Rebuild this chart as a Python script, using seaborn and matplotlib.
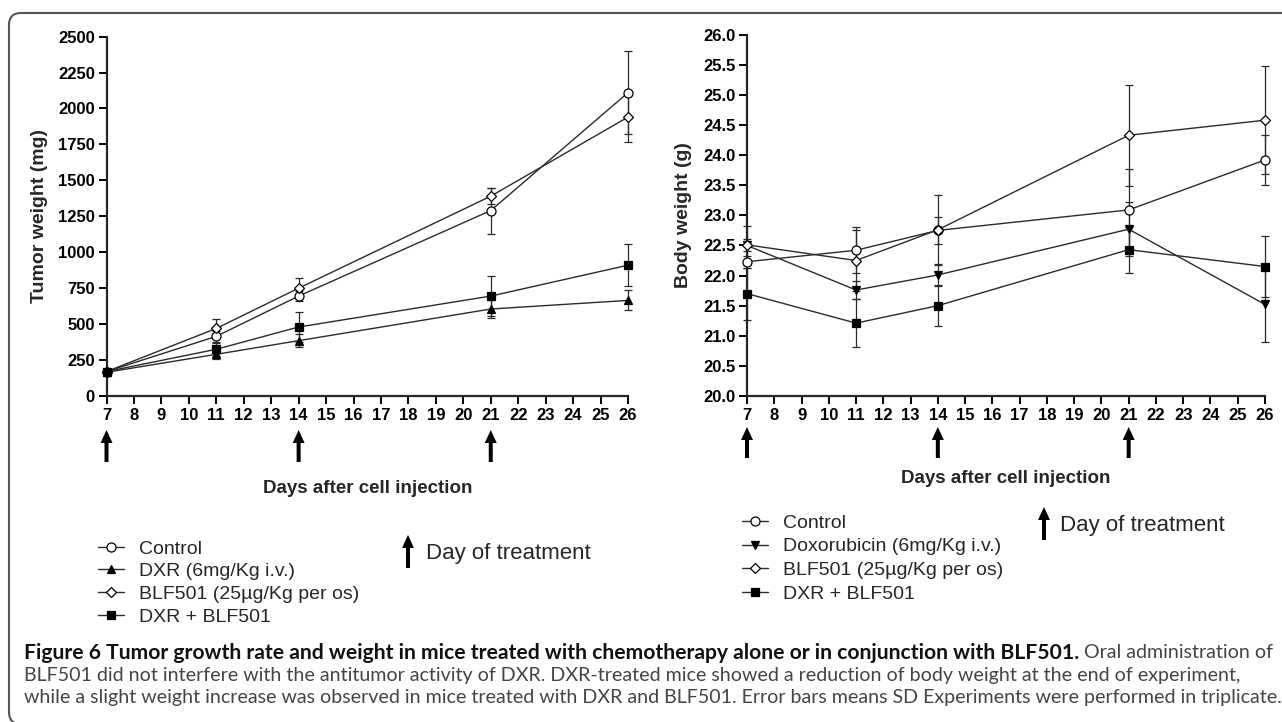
import numpy as np
import pandas as pd
import matplotlib
matplotlib.use("Agg")
import matplotlib.pyplot as plt
import seaborn as sns
from matplotlib.patches import FancyBboxPatch
from matplotlib.ticker import FormatStrFormatter

# ================= data =================
DAYS = [7, 11, 14, 21, 26]
TREAT_DAYS = [7, 14, 21]

# left panel: tumor weight (mg), mean and SD
TUMOR_GROUPS = ["Control", "DXR (6mg/Kg i.v.)", "BLF501 (25\u00b5g/Kg per os)", "DXR + BLF501"]
TUMOR_CONTROL = [170, 415, 695, 1290, 2110]
TUMOR_CONTROL_SD = [15, 40, 35, 160, 290]
TUMOR_DXR = [165, 290, 385, 605, 665]
TUMOR_DXR_SD = [10, 35, 45, 60, 70]
TUMOR_BLF = [170, 470, 750, 1390, 1940]
TUMOR_BLF_SD = [10, 65, 70, 55, 170]
TUMOR_COMBO = [170, 325, 480, 695, 910]
TUMOR_COMBO_SD = [10, 45, 107, 140, 145]

# right panel: body weight (g), mean and SD
BODY_GROUPS = ["Control", "Doxorubicin (6mg/Kg i.v.)", "BLF501 (25\u00b5g/Kg per os)", "DXR + BLF501"]
BODY_CONTROL = [22.23, 22.42, 22.75, 23.09, 23.92]
BODY_CONTROL_SD = [0.10, 0.38, 0.23, 0.68, 0.42]
BODY_DOX = [22.50, 21.76, 22.01, 22.77, 21.52]
BODY_DOX_SD = [0.32, 0.15, 0.17, 0.45, 0.62]
BODY_BLF = [22.51, 22.25, 22.76, 24.33, 24.58]
BODY_BLF_SD = [0.10, 0.50, 0.57, 0.84, 0.90]
BODY_COMBO = [21.70, 21.21, 21.50, 22.43, 22.15]
BODY_COMBO_SD = [0.43, 0.40, 0.33, 0.38, 0.50]

CAPTION_BOLD = ("Figure 6 Tumor growth rate and weight in mice treated with chemotherapy "
                "alone or in conjunction with BLF501.")
CAPTION_LINES = [
    " Oral administration of",
    "BLF501 did not interfere with the antitumor activity of DXR. DXR-treated mice showed a "
    "reduction of body weight at the end of experiment,",
    "while a slight weight increase was observed in mice treated with DXR and BLF501. Error bars "
    "means SD Experiments were performed in triplicate.",
]
# ============================================================

W, H = 1282, 722


def fx(px):
    return px / W


def fy(py):
    return 1 - py / H


def long_frame(groups, means, sds):
    rows = []
    for g, m, s in zip(groups, means, sds):
        for d, v, e in zip(DAYS, m, s):
            rows.append({"day": d, "value": v, "sd": e, "group": g})
    return pd.DataFrame(rows)


tumor_df = long_frame(TUMOR_GROUPS,
                      [TUMOR_CONTROL, TUMOR_DXR, TUMOR_BLF, TUMOR_COMBO],
                      [TUMOR_CONTROL_SD, TUMOR_DXR_SD, TUMOR_BLF_SD, TUMOR_COMBO_SD])
body_df = long_frame(BODY_GROUPS,
                     [BODY_CONTROL, BODY_DOX, BODY_BLF, BODY_COMBO],
                     [BODY_CONTROL_SD, BODY_DOX_SD, BODY_BLF_SD, BODY_COMBO_SD])

sns.set_style("ticks")
plt.rcParams["font.family"] = ["Liberation Sans", "DejaVu Sans"]

LINE_COL = "#2a2a2a"
# marker, size, face colour per group position
MARKERS_LEFT = [("o", 6.5, "white"), ("^", 6.0, "black"), ("D", 5.0, "white"), ("s", 6.0, "black")]
MARKERS_RIGHT = [("o", 6.5, "white"), ("v", 6.0, "black"), ("D", 5.0, "white"), ("s", 6.0, "black")]

ARROW = dict(arrowstyle="simple,head_length=0.65,head_width=0.6,tail_width=0.2",
             mutation_scale=14.4, fc="black", ec="none", lw=0, shrinkA=0, shrinkB=0)


def draw_panel(ax, df, groups, markers):
    handles = []
    for g, (mk, ms, fc) in zip(groups, markers):
        sub = df[df["group"] == g]
        eb = ax.errorbar(sub["day"], sub["value"], yerr=sub["sd"], fmt="none",
                         ecolor=LINE_COL, elinewidth=0.9, capsize=3, capthick=0.9, zorder=2)
        for child in eb.get_children():
            child.set_clip_on(False)
        sns.lineplot(data=sub, x="day", y="value", ax=ax, color=LINE_COL, linewidth=1.0,
                     marker=mk, markersize=ms, markerfacecolor=fc, markeredgecolor="black",
                     markeredgewidth=0.9, clip_on=False, zorder=3, errorbar=None, sort=False)
        handles.append(ax.lines[-1])

    ax.set_xlim(7, 26)
    ax.set_xticks(range(7, 27))
    sns.despine(ax=ax)
    for side in ["left", "bottom"]:
        ax.spines[side].set_linewidth(1.6)
    ax.tick_params(axis="both", direction="out", length=5.8, width=1.4, labelsize=12,
                   pad=2.5, colors="black")
    for lbl in ax.get_xticklabels() + ax.get_yticklabels():
        lbl.set_fontweight("bold")
    ax.set_xlabel("Days after cell injection", fontsize=13.5, fontweight="bold")
    return handles


fig = plt.figure(figsize=(W / 100, H / 100), dpi=100)
fig.patch.set_facecolor("white")

ax1 = fig.add_axes([fx(106.5), fy(396), fx(628) - fx(106.5), fy(36.6) - fy(396)])
ax2 = fig.add_axes([fx(747), fy(396), fx(1265) - fx(747), fy(34.7) - fy(396)])

# ---- left: tumor weight ----
h1 = draw_panel(ax1, tumor_df, TUMOR_GROUPS, MARKERS_LEFT)
ax1.set_ylim(0, 2500)
ax1.set_yticks(np.arange(0, 2501, 250))
for lbl in ax1.get_yticklabels():
    lbl.set_fontweight("bold")
ax1.set_ylabel("Tumor weight (mg)", fontsize=14, fontweight="bold")
ax1.yaxis.set_label_coords(-0.112, 0.5)
ax1.xaxis.set_label_coords(0.5, -0.233)

# ---- right: body weight ----
h2 = draw_panel(ax2, body_df, BODY_GROUPS, MARKERS_RIGHT)
ax2.set_ylim(20.0, 26.0)
ax2.set_yticks(np.arange(20.0, 26.01, 0.5))
ax2.yaxis.set_major_formatter(FormatStrFormatter("%.1f"))
for lbl in ax2.get_yticklabels():
    lbl.set_fontweight("bold")
ax2.set_ylabel("Body weight (g)", fontsize=14, fontweight="bold")
ax2.yaxis.set_label_coords(-0.106, 0.5)
ax2.xaxis.set_label_coords(0.5, -0.204)

# treatment arrows under the x axes
for ax, tip, base in [(ax1, -0.0946, -0.1836), (ax2, -0.0858, -0.1716)]:
    for d in TREAT_DAYS:
        ax.annotate("", xy=(d, tip), xytext=(d, base), xycoords=ax.get_xaxis_transform(),
                    arrowprops=ARROW, annotation_clip=False)

# legends
leg_kw = dict(loc="upper left", bbox_transform=fig.transFigure, frameon=False, fontsize=14,
              handlelength=1.34, handletextpad=0.75, borderpad=0, borderaxespad=0)
ax1.legend(h1, TUMOR_GROUPS, bbox_to_anchor=(fx(98), fy(540)), labelspacing=0.26, **leg_kw)
ax2.legend(h2, BODY_GROUPS, bbox_to_anchor=(fx(742), fy(514)), labelspacing=0.32, **leg_kw)

# "Day of treatment" keys
for ax_x, top, bot, tx, ty in [(408, 535, 568, 426, 553), (1044, 507, 540, 1060, 525)]:
    fig.add_artist(plt.Annotation("", xy=(fx(ax_x), fy(top)), xytext=(fx(ax_x), fy(bot)),
                                  xycoords="figure fraction", arrowprops=ARROW))
    fig.text(fx(tx), fy(ty), "Day of treatment", fontsize=16, va="center", ha="left")

# rounded frame around the figure
frame = FancyBboxPatch((9, -2), 1290, 711, boxstyle="round,pad=0,rounding_size=12",
                       transform=None, fill=False, ec="#555555", lw=1.5)
fig.add_artist(frame)

# caption: fit the widest line to the frame width, bold title to its own width
cap_font = ["Lato", "Open Sans", "DejaVu Sans"]
renderer = fig.canvas.get_renderer()
probe = fig.text(0, 0, CAPTION_LINES[2], fontsize=12, family=cap_font)
probe_w = probe.get_window_extent(renderer).width
probe.remove()
cap_size = 12 * (1280 - 24) / probe_w

probe = fig.text(0, 0, CAPTION_BOLD, fontsize=12, family=cap_font, fontweight="bold")
probe_w = probe.get_window_extent(renderer).width
probe.remove()
bold_size = 12 * (1077 - 24) / probe_w

x0 = 24
bold = fig.text(fx(x0), fy(653), CAPTION_BOLD, fontsize=bold_size, family=cap_font,
                fontweight="bold", color="#111111", va="center")
bw = bold.get_window_extent(renderer).width
fig.text(fx(x0 + bw), fy(653), CAPTION_LINES[0], fontsize=cap_size, family=cap_font,
         color="#444444", va="center")
fig.text(fx(x0), fy(675), CAPTION_LINES[1], fontsize=cap_size, family=cap_font,
         color="#444444", va="center")
fig.text(fx(x0), fy(697), CAPTION_LINES[2], fontsize=cap_size, family=cap_font,
         color="#444444", va="center")

fig.savefig("out.png", dpi=100, facecolor="white")
plt.close(fig)
